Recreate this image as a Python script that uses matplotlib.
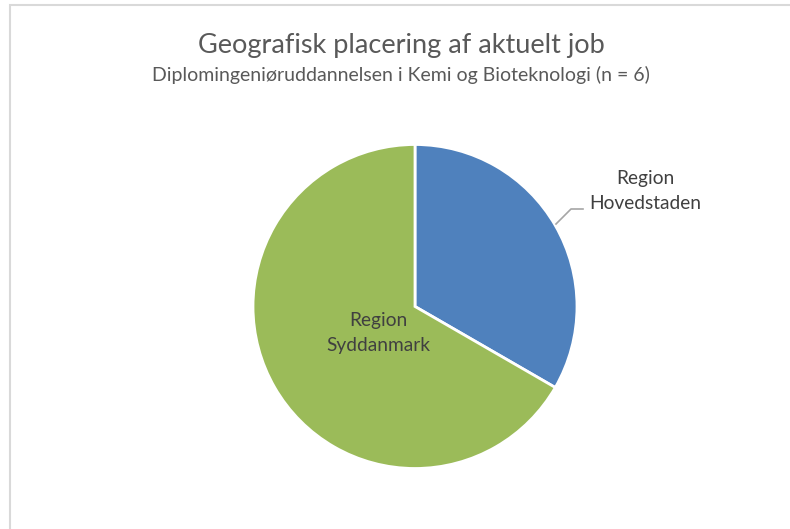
import matplotlib.pyplot as plt
from matplotlib.patches import Rectangle
from matplotlib.lines import Line2D

# Data
labels = ['Region\nHovedstaden', 'Region\nSyddanmark']
counts = [2, 4]
colors = ['#4f81bd', '#9bbb59']

W, H = 790, 529
fig = plt.figure(figsize=(W / 100, H / 100), dpi=100)
plt.rcParams['font.family'] = ['Lato', 'DejaVu Sans']


def fx(px):
    return px / W


def fy(py):
    return 1 - py / H


# chart frame
fig.patches.append(Rectangle((fx(10), fy(600)), 1.2, fy(5) - fy(600),
                             transform=fig.transFigure, fill=False,
                             edgecolor='#d9d9d9', linewidth=1.5))

# pie
cx, cy, r = 415, 306.5, 162
ax = fig.add_axes([fx(cx - r), fy(cy + r), 2 * r / W, 2 * r / H])
ax.pie(counts, colors=colors, startangle=90, counterclock=False,
       wedgeprops=dict(edgecolor='white', linewidth=2))
ax.set_xlim(-1, 1)
ax.set_ylim(-1, 1)
ax.axis('off')

txt = '#595959'
fig.text(fx(401), fy(45), 'Geografisk placering af aktuelt job', ha='center',
         va='center', fontsize=19.5, color=txt)
fig.text(fx(401), fy(75), 'Diplomingeniøruddannelsen i Kemi og Bioteknologi (n = 6)',
         ha='center', va='center', fontsize=14, color=txt)

fig.text(fx(645), fy(191), labels[0], ha='center', va='center', fontsize=13.8,
         color='#404040', linespacing=1.55)
fig.text(fx(378), fy(333), labels[1], ha='center', va='center', fontsize=13.8,
         color='#404040', linespacing=1.55)

# leader line
fig.lines.append(Line2D([fx(556), fx(571), fx(583)], [fy(224), fy(209), fy(209)],
                        transform=fig.transFigure, color='#a6a6a6', linewidth=1.2))

fig.savefig('out.png', dpi=100)
